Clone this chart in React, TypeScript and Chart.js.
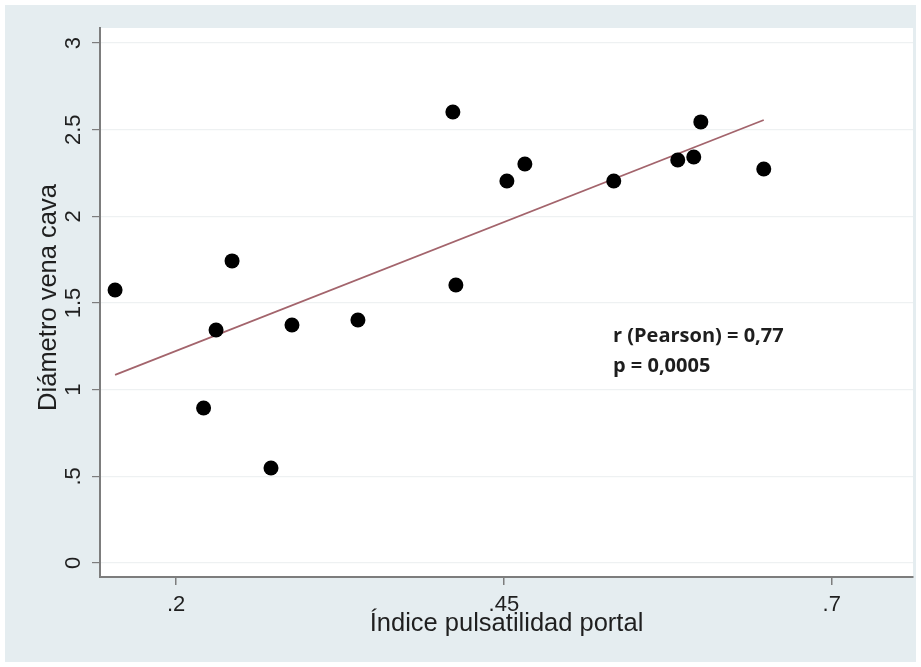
import { useEffect, useRef } from "react";
import { Chart, registerables } from "chart.js";
Chart.register(...registerables);

const indicePulsatilidad = [0.1535, 0.221, 0.2305, 0.2427, 0.2724, 0.2884, 0.3387, 0.4111, 0.4134, 0.4523, 0.466, 0.5338, 0.5826, 0.5948, 0.6002, 0.6482];
const diametroVenaCava = [1.575, 0.894, 1.344, 1.743, 0.548, 1.373, 1.402, 2.602, 1.604, 2.204, 2.302, 2.204, 2.325, 2.343, 2.545, 2.273];
const fitX = [0.1535, 0.6482];
const fitY = [1.085, 2.556];
const xTicks = [0.2, 0.45, 0.7];
const xTickLabels = [".2", ".45", ".7"];
const yTicks = [0, 0.5, 1, 1.5, 2, 2.5, 3];
const yTickLabels = ["0", ".5", "1", "1.5", "2", "2.5", "3"];
const xTitle = "Índice pulsatilidad portal";
const yTitle = "Diámetro vena cava";
const noteLines = ["r (Pearson) = 0,77", "p = 0,0005"];

const W = 921;
const H = 667;

export default function App() {
  const ref = useRef<HTMLCanvasElement | null>(null);
  useEffect(() => {
    const canvas = ref.current;
    if (!canvas) return;
    const textPlugin = {
      id: "stataText",
      beforeDraw(chart: any) {
        const { ctx, chartArea } = chart;
        ctx.save();
        ctx.fillStyle = "#ffffff";
        ctx.fillRect(0, 0, W, H);
        ctx.fillStyle = "#e5edf0";
        ctx.fillRect(5, 5, W - 10, H - 10);
        ctx.fillStyle = "#ffffff";
        ctx.fillRect(chartArea.left, chartArea.top, chartArea.right - chartArea.left, chartArea.bottom - chartArea.top);
        ctx.restore();
      },
      afterDraw(chart: any) {
        const { ctx, chartArea } = chart;
        const xs = chart.scales.x;
        const ys = chart.scales.y;
        ctx.save();
        ctx.fillStyle = "#1f1f1f";
        ctx.font = "22px 'Liberation Sans', Arial, sans-serif";
        ctx.textAlign = "center";
        ctx.textBaseline = "alphabetic";
        xTicks.forEach((v, i) => {
          ctx.fillText(xTickLabels[i], xs.getPixelForValue(v), 611);
        });
        yTicks.forEach((v, i) => {
          ctx.save();
          ctx.translate(80, ys.getPixelForValue(v));
          ctx.rotate(-Math.PI / 2);
          ctx.fillText(yTickLabels[i], 0, 0);
          ctx.restore();
        });
        ctx.font = "25.5px 'Liberation Sans', Arial, sans-serif";
        ctx.fillText(xTitle, (chartArea.left + chartArea.right) / 2, 631);
        ctx.save();
        ctx.translate(56, (chartArea.top + chartArea.bottom) / 2 - 5);
        ctx.rotate(-Math.PI / 2);
        ctx.fillText(yTitle, 0, 0);
        ctx.restore();
        ctx.font = "bold 20px 'Open Sans', sans-serif";
        ctx.textAlign = "left";
        ctx.fillStyle = "#1e1e1e";
        ctx.fillText(noteLines[0], 613, 342);
        ctx.fillText(noteLines[1], 613, 372);
        ctx.restore();
      },
    };
    const chart = new Chart(canvas, {
      type: "scatter",
      data: {
        datasets: [
          {
            type: "scatter",
            data: indicePulsatilidad.map((x, i) => ({ x, y: diametroVenaCava[i] })),
            backgroundColor: "#000000",
            borderWidth: 0,
            pointRadius: 7.5,
            pointHoverRadius: 7.5,
          },
          {
            type: "line",
            data: fitX.map((x, i) => ({ x, y: fitY[i] })),
            borderColor: "#a3646c",
            borderWidth: 1.8,
            pointRadius: 0,
            showLine: true,
            fill: false,
          } as any,
        ],
      },
      options: {
        responsive: false,
        animation: false,
        devicePixelRatio: 1,
        layout: { padding: { top: 28, right: 8, left: 0, bottom: 0 } },
        plugins: { legend: { display: false }, tooltip: { enabled: false } },
        scales: {
          x: {
            type: "linear",
            min: 0.142,
            max: 0.762,
            afterBuildTicks: (s: any) => {
              s.ticks = xTicks.map((v) => ({ value: v }));
            },
            afterFit: (s: any) => {
              s.height = 90;
            },
            ticks: { color: "rgba(0,0,0,0)", font: { size: 12 } },
            grid: { drawOnChartArea: false, drawTicks: true, tickLength: 8, tickColor: "#7d7d7d", lineWidth: 1.5 },
            border: { display: true, color: "#7d7d7d", width: 2 },
          },
          y: {
            type: "linear",
            min: -0.081,
            max: 3.087,
            afterBuildTicks: (s: any) => {
              s.ticks = yTicks.map((v) => ({ value: v }));
            },
            afterFit: (s: any) => {
              s.width = 100;
            },
            ticks: { color: "rgba(0,0,0,0)", font: { size: 12 } },
            grid: { drawOnChartArea: true, color: "#eef1f2", lineWidth: 1.2, drawTicks: true, tickLength: 8, tickColor: "#7d7d7d" },
            border: { display: true, color: "#7d7d7d", width: 2 },
          },
        },
      },
      plugins: [textPlugin],
    });
    return () => chart.destroy();
  }, []);
  return (
    <div style={{ position: "fixed", left: 0, top: 0, width: W, height: H, background: "#fff" }}>
      <canvas ref={ref} width={W} height={H} style={{ display: "block", width: W, height: H }} />
    </div>
  );
}
